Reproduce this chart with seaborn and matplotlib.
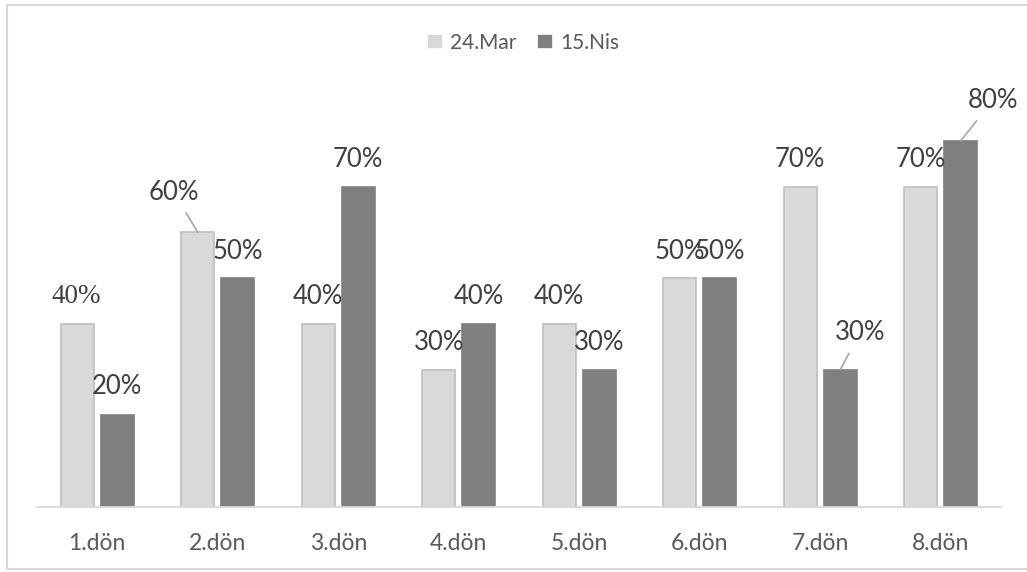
import matplotlib
matplotlib.use("Agg")
import matplotlib.pyplot as plt
import seaborn as sns
import pandas as pd
from matplotlib.lines import Line2D
from matplotlib.font_manager import FontProperties, fontManager, findfont

categories = ["1.dön", "2.dön", "3.dön", "4.dön", "5.dön", "6.dön", "7.dön", "8.dön"]
series_names = ["24.Mar", "15.Nis"]
mar_values = [0.40, 0.60, 0.40, 0.30, 0.40, 0.50, 0.70, 0.70]
nis_values = [0.20, 0.50, 0.70, 0.40, 0.30, 0.50, 0.30, 0.80]

df = pd.DataFrame({
    "donem": categories * 2,
    "seri": [series_names[0]] * len(categories) + [series_names[1]] * len(categories),
    "deger": mar_values + nis_values,
})

sns.set_theme(style="white")
plt.rcParams["font.family"] = ["Lato", "DejaVu Sans"]
plt.rcParams["font.serif"] = ["Liberation Serif", "Times New Roman", "DejaVu Serif"]

W, H = 1027, 572
fig = plt.figure(figsize=(W / 100, H / 100), dpi=100)
ax = fig.add_axes([37 / W, (H - 507) / H, (1001 - 37) / W, (507 - 95) / H])

colors = ["#d9d9d9", "#7f7f7f"]
sns.barplot(data=df, x="donem", y="deger", hue="seri", order=categories,
            hue_order=series_names, palette=colors, width=0.663, gap=0.175,
            ax=ax, saturation=1, legend=True)

edgecols = ["#bfbfbf", "#7f7f7f"]
for cont, ec in zip(ax.containers, edgecols):
    for b in cont:
        b.set_edgecolor(ec)
        b.set_linewidth(1.2)

ax.set_ylim(0, 0.9)
ax.set_xlim(-0.5, len(categories) - 0.5)
ax.set_xlabel("")
ax.set_ylabel("")
ax.set_yticks([])
ax.tick_params(axis="x", length=0, pad=19, labelsize=16.5, labelcolor="#595959")
for s in ["top", "right", "left"]:
    ax.spines[s].set_visible(False)
ax.spines["bottom"].set_color("#d9d9d9")
ax.spines["bottom"].set_linewidth(1.3)

serif_file = findfont(FontProperties(family="serif"))
serif_fp = FontProperties(fname=serif_file, size=19.5)

special = {
    (0, 0): dict(dxy=(-1, 27), serif=True),
    (0, 1): dict(dxy=(-24, 40), leader=True),
    (1, 6): dict(dxy=(20, 37), leader=True),
    (1, 7): dict(dxy=(32, 40), leader=True),
    (1, 0): dict(dxy=(0, 29)),
}
for si, cont in enumerate(ax.containers):
    for ci, b in enumerate(cont):
        x = b.get_x() + b.get_width() / 2
        y = b.get_height()
        opts = special.get((si, ci), {})
        dx, dy = opts.get("dxy", (0, 27))
        txt = f"{round(y * 100):d}%"
        kw = dict(ha="center", va="center", color="#404040", fontsize=18.5,
                  textcoords="offset pixels", xytext=(dx, dy), xy=(x, y))
        if opts.get("leader"):
            kw["arrowprops"] = dict(arrowstyle="-", color="#a6a6a6", lw=1.2,
                                    shrinkA=4, shrinkB=0)
        t = ax.annotate(txt, **kw)
        if opts.get("serif"):
            t.set_fontproperties(serif_fp)

handles, labels = ax.get_legend_handles_labels()
if ax.get_legend() is not None:
    ax.get_legend().remove()
leg = fig.legend(handles, labels, loc="center", bbox_to_anchor=(523 / W, 1 - 43 / H),
                 ncol=2, frameon=False, fontsize=15, handlelength=0.75, handleheight=0.75,
                 handletextpad=0.35, columnspacing=1.0, labelcolor="#595959")
for h in leg.legend_handles:
    h.set_linewidth(1.2)

# figure border
for xs, ys in [([7 / W, 7 / W], [1 - 5 / H, 1 - 569 / H]),
               ([7 / W, 1.0], [1 - 5 / H, 1 - 5 / H]),
               ([7 / W, 1.0], [1 - 569 / H, 1 - 569 / H])]:
    fig.add_artist(Line2D(xs, ys, transform=fig.transFigure, color="#d9d9d9", lw=1.5))

fig.savefig("out.png", dpi=100)
